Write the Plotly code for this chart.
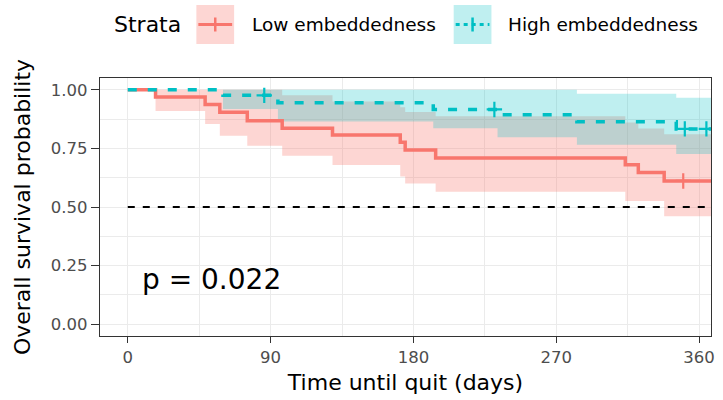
import plotly.graph_objects as go

# ---------------- data ----------------
red_time  = [0, 17.5, 48.75, 58, 75.3, 97.3, 129, 171.7, 174.8, 194, 313.5, 321.7, 338, 367.5]
red_surv  = [1.0, 0.969, 0.937, 0.904, 0.868, 0.836, 0.807, 0.776, 0.743, 0.709, 0.68, 0.647, 0.611, 0.611]
red_lower = [1.0, 0.909, 0.854, 0.804, 0.761, 0.718, 0.679, 0.63, 0.60, 0.565, 0.526, 0.526, 0.461, 0.461]
red_upper = [1.0, 1.0, 1.0, 1.0, 1.0, 0.976, 0.95, 0.925, 0.905, 0.887, 0.86, 0.835, 0.81, 0.81]
red_cens_time = [350]
red_cens_surv = [0.611]

teal_time  = [0, 60, 94.6, 192.5, 233, 283, 345.6, 367.5]
teal_surv  = [1.0, 0.976, 0.944, 0.916, 0.893, 0.864, 0.833, 0.833]
teal_lower = [1.0, 0.918, 0.865, 0.836, 0.797, 0.765, 0.726, 0.726]
teal_upper = [1.0, 1.0, 1.0, 1.0, 1.0, 0.983, 0.966, 0.966]
teal_cens_time = [86, 231, 351, 364.6]
teal_cens_surv = [0.976, 0.916, 0.833, 0.833]

median_line_x = [0, 367.5]
median_line_y = [0.5, 0.5]

x_ticks = [0, 90, 180, 270, 360]
y_ticks = [0, 0.25, 0.5, 0.75, 1.0]
x_minor = [45, 135, 225, 315]
y_minor = [0.125, 0.375, 0.625, 0.875]

strata_names = ["Low embeddedness", "High embeddedness"]
pval_text = "p = 0.022"

RED = "#F8766D"
TEAL = "#00BFC4"
RED_FILL = "rgba(248,118,109,0.3)"
TEAL_FILL = "rgba(0,191,196,0.25)"
FONT = "DejaVu Sans"

W, H = 723, 400
ML, MR, MT, MB = 100, 8, 78, 64
PW, PH = W - ML - MR, H - MT - MB


def px(x):
    return (x - ML) / PW


def py(y):
    return (H - MB - y) / PH


fig = go.Figure()

# confidence bands
for t, lo, up, fc in [(red_time, red_lower, red_upper, RED_FILL),
                      (teal_time, teal_lower, teal_upper, TEAL_FILL)]:
    fig.add_trace(go.Scatter(x=t, y=lo, mode="lines", line=dict(width=0, shape="hv"),
                             showlegend=False, hoverinfo="skip"))
    fig.add_trace(go.Scatter(x=t, y=up, mode="lines", line=dict(width=0, shape="hv"),
                             fill="tonexty", fillcolor=fc, showlegend=False, hoverinfo="skip"))

# median reference line
fig.add_trace(go.Scatter(x=median_line_x, y=median_line_y, mode="lines",
                         line=dict(color="black", width=2.2, dash="7px,8px"),
                         showlegend=False))

# survival curves
fig.add_trace(go.Scatter(x=red_time, y=red_surv, mode="lines",
                         line=dict(color=RED, width=3.5, shape="hv"), showlegend=False))
fig.add_trace(go.Scatter(x=teal_time, y=teal_surv, mode="lines",
                         line=dict(color=TEAL, width=3.5, shape="hv", dash="9px,11px"),
                         showlegend=False))

# censor marks
fig.add_trace(go.Scatter(x=red_cens_time, y=red_cens_surv, mode="markers",
                         marker=dict(symbol="cross-thin", size=11, line=dict(color=RED, width=2.2)),
                         showlegend=False))
fig.add_trace(go.Scatter(x=teal_cens_time, y=teal_cens_surv, mode="markers",
                         marker=dict(symbol="cross-thin", size=11, line=dict(color=TEAL, width=2.2)),
                         showlegend=False))

# ---------------- manual legend ----------------
shapes = []
annotations = []
ly = 24.5
annotations.append(dict(text="Strata", x=px(112), y=py(ly), xref="paper", yref="paper",
                        xanchor="left", yanchor="middle", showarrow=False,
                        font=dict(family=FONT, size=22, color="black")))
keys = [(197, RED, RED_FILL, "solid", strata_names[0], 251),
        (456, TEAL, TEAL_FILL, "4px,4px", strata_names[1], 509)]
for x0, col, fc, dash, name, tx in keys:
    x1 = x0 + 38
    shapes.append(dict(type="rect", xref="paper", yref="paper",
                       x0=px(x0), x1=px(x1), y0=py(5), y1=py(44),
                       fillcolor=fc, line=dict(width=0), layer="above"))
    shapes.append(dict(type="line", xref="paper", yref="paper",
                       x0=px(x0 + 2), x1=px(x1 - 2), y0=py(ly), y1=py(ly),
                       line=dict(color=col, width=3, dash=dash), layer="above"))
    xm = (x0 + x1) / 2
    shapes.append(dict(type="line", xref="paper", yref="paper",
                       x0=px(xm), x1=px(xm), y0=py(ly - 7), y1=py(ly + 7),
                       line=dict(color=col, width=2.5), layer="above"))
    annotations.append(dict(text=name, x=px(tx), y=py(ly), xref="paper", yref="paper",
                            xanchor="left", yanchor="middle", showarrow=False,
                            font=dict(family=FONT, size=18.5, color="black")))

# p-value
annotations.append(dict(text=pval_text, x=53, y=0.19, xref="x", yref="y",
                        xanchor="center", yanchor="middle", showarrow=False,
                        font=dict(family=FONT, size=28, color="black")))

axis_common = dict(showline=True, mirror=True, linecolor="#333333", linewidth=1.2,
                   showgrid=True, gridcolor="#EBEBEB", gridwidth=1.1,
                   zeroline=False, ticks="outside", tickcolor="#333333",
                   tickfont=dict(family=FONT, size=16.5, color="#4D4D4D"))

fig.update_layout(
    width=W, height=H,
    margin=dict(l=ML, r=MR, t=MT, b=MB),
    paper_bgcolor="white", plot_bgcolor="white",
    showlegend=False,
    font=dict(family=FONT),
    shapes=shapes, annotations=annotations,
    xaxis=dict(range=[-17.5, 367.5], tickvals=x_ticks, ticktext=[str(v) for v in x_ticks],
               ticklen=6, tickwidth=1.2,
               minor=dict(tickvals=x_minor, showgrid=True, gridcolor="#EBEBEB", gridwidth=0.6, ticks=""),
               title=dict(text="Time until quit (days)", font=dict(family=FONT, size=22, color="black"),
                          standoff=8),
               **axis_common),
    yaxis=dict(range=[-0.05, 1.05], tickvals=y_ticks, ticktext=[f"{v:.2f}" for v in y_ticks],
               ticklen=8, tickwidth=1.2,
               minor=dict(tickvals=y_minor, showgrid=True, gridcolor="#EBEBEB", gridwidth=0.6, ticks=""),
               title=dict(text="Overall survival probability", font=dict(family=FONT, size=22, color="black"),
                          standoff=14),
               **axis_common),
)

fig.write_html("out.html")
